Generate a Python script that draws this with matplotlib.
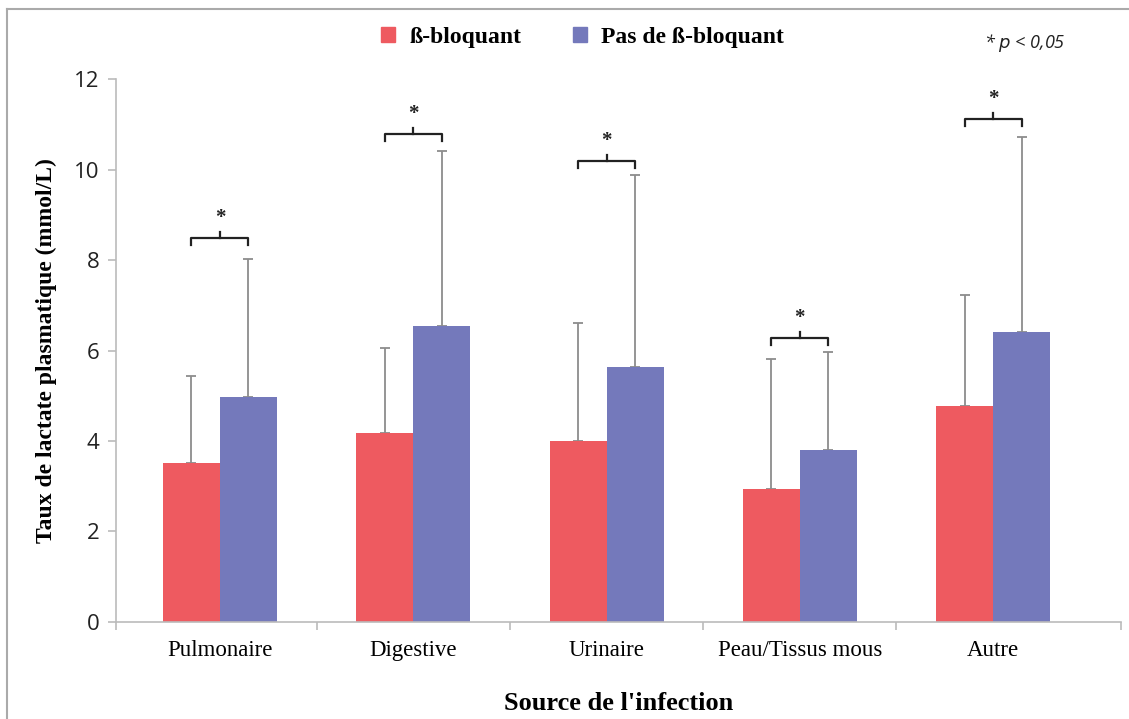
import numpy as np
import matplotlib.pyplot as plt
from matplotlib.lines import Line2D
from matplotlib.patches import Patch

# data
sources = ["Pulmonaire", "Digestive", "Urinaire", "Peau/Tissus mous", "Autre"]
beta = [3.51, 4.18, 4.00, 2.94, 4.77]
beta_sd = [1.93, 1.88, 2.61, 2.87, 2.46]
no_beta = [4.97, 6.54, 5.64, 3.80, 6.41]
no_beta_sd = [3.05, 3.86, 4.24, 2.17, 4.30]
bracket_y = [8.49, 10.78, 10.19, 6.28, 11.12]

red = "#EE5A60"
blue = "#7479BB"
grey = "#8C8C8C"
serif = "Liberation Serif"

fig = plt.figure(figsize=(11.29, 7.19), dpi=100)
ax = fig.add_axes([0.1027, 0.135, 0.8903, 0.755])

x = np.arange(len(sources))
w = 0.295
ax.bar(x - w / 2, beta, w, color=red, zorder=2)
ax.bar(x + w / 2, no_beta, w, color=blue, zorder=2)
ax.errorbar(x - w / 2, beta, yerr=[np.zeros(5), beta_sd], fmt="none",
            ecolor=grey, elinewidth=1.3, capsize=3.5, capthick=1.3, zorder=1)
ax.errorbar(x + w / 2, no_beta, yerr=[np.zeros(5), no_beta_sd], fmt="none",
            ecolor=grey, elinewidth=1.3, capsize=3.5, capthick=1.3, zorder=1)

# significance brackets
for xi, yb in zip(x, bracket_y):
    x0, x1 = xi - w / 2, xi + w / 2
    ax.plot([x0, x0, x1, x1], [yb - 0.15, yb, yb, yb - 0.15], color="#222222",
            lw=1.6, clip_on=False, zorder=3)
    ax.plot([xi, xi], [yb, yb + 0.13], color="#222222", lw=1.6, clip_on=False)
    ax.text(xi, yb + 0.22, "*", ha="center", va="bottom", fontsize=15,
            fontweight="bold", family=serif, color="#222222")

xlo, xhi = -0.538, 4.662
ax.set_xlim(xlo, xhi)
ax.set_ylim(0, 12)
ax.set_yticks(range(0, 13, 2))
ax.set_xticks(x)
ax.set_xticklabels(sources, family=serif, fontsize=16.5)
ax.set_xticks([xlo, 0.5, 1.5, 2.5, 3.5, xhi], minor=True)
ax.tick_params(axis="x", which="major", length=0, pad=13)
ax.tick_params(axis="x", which="minor", length=6, color="#BBBBBB", width=1.2)
ax.tick_params(axis="y", length=6, color="#BBBBBB", width=1.2, pad=6,
               labelsize=16, labelcolor="#222222")
for lab in ax.get_yticklabels():
    lab.set_family("Open Sans")

for s in ["top", "right"]:
    ax.spines[s].set_visible(False)
for s in ["left", "bottom"]:
    ax.spines[s].set_color("#BBBBBB")
    ax.spines[s].set_linewidth(1.2)

ax.set_ylabel("Taux de lactate plasmatique (mmol/L)", family=serif,
              fontweight="bold", fontsize=17, labelpad=12)
ax.set_xlabel("Source de l'infection", family=serif, fontweight="bold",
              fontsize=19, labelpad=22)

handles = [Patch(color=red, label="ß-bloquant"),
           Patch(color=blue, label="Pas de ß-bloquant")]
fig.legend(handles=handles, loc="center", bbox_to_anchor=(0.516, 0.948), ncol=2,
           frameon=False, prop={"family": serif, "weight": "bold", "size": 17},
           handlelength=0.6, handleheight=0.6, handletextpad=0.6, columnspacing=2.2)

fig.text(0.872, 0.94, "* $p$ < 0,05", family="Open Sans", style="italic",
         fontsize=13, ha="left", va="center", color="#222222")

# outer frame (left and top edges visible)
fig.add_artist(Line2D([0.0062, 0.0062], [0.0, 0.9875], color="#AAAAAA", lw=1.5))
fig.add_artist(Line2D([0.0062, 1.0], [0.9875, 0.9875], color="#AAAAAA", lw=1.5))

fig.savefig("out.png", dpi=100)
